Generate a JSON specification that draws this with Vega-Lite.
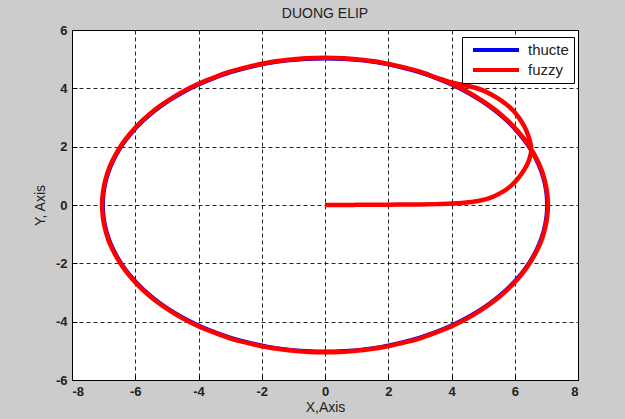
{
  "$schema": "https://vega.github.io/schema/vega-lite/v6.json",
  "width": 506,
  "height": 350,
  "autosize": {"type": "none"},
  "padding": {"left": 72, "top": 30, "right": 47, "bottom": 39},
  "background": "#cccccc",
  "title": {"text": "DUONG ELIP", "fontSize": 14, "font": "Liberation Sans", "fontWeight": "normal", "color": "#222222", "offset": 3, "anchor": "middle"},
  "config": {
    "view": {"stroke": "#000000", "strokeWidth": 1, "fill": "#ffffff"},
    "axis": {
      "domainColor": "#000000",
      "domainWidth": 1,
      "grid": true,
      "gridColor": "#000000",
      "gridDash": [4, 3],
      "gridOpacity": 0.85,
      "gridWidth": 1,
      "ticks": true,
      "tickSize": -5,
      "tickColor": "#000000",
      "labelFont": "Liberation Sans",
      "labelFontSize": 13,
      "labelFontWeight": "bold",
      "labelColor": "#222222",
      "labelPadding": 10,
      "labelExpr": "'' + datum.value",
      "titleFont": "Liberation Sans",
      "titleFontSize": 14,
      "titleFontWeight": "normal",
      "titleColor": "#222222"
    },
    "legend": {
      "orient": "none",
      "legendX": 390,
      "legendY": 7,
      "fillColor": "#ffffff",
      "strokeColor": "#000000",
      "padding": 5,
      "symbolType": "stroke",
      "symbolSize": 2116,
      "symbolStrokeWidth": 4,
      "symbolOffset": 4,
      "clipHeight": 16,
      "rowPadding": 4,
      "labelFont": "Liberation Sans",
      "labelFontSize": 15,
      "labelColor": "#222222",
      "labelOffset": 7,
      "title": null
    }
  },
  "datasets": {
    "thucte": [
      {"i":0,"x":7,"y":0},{"i":1,"x":6.973,"y":0.436},{"i":2,"x":6.894,"y":0.868},{"i":3,"x":6.762,"y":1.294},
      {"i":4,"x":6.578,"y":1.71},{"i":5,"x":6.344,"y":2.113},{"i":6,"x":6.062,"y":2.5},{"i":7,"x":5.734,"y":2.868},
      {"i":8,"x":5.362,"y":3.214},{"i":9,"x":4.95,"y":3.536},{"i":10,"x":4.5,"y":3.83},{"i":11,"x":4.015,"y":4.096},
      {"i":12,"x":3.5,"y":4.33},{"i":13,"x":2.958,"y":4.532},{"i":14,"x":2.394,"y":4.698},{"i":15,"x":1.812,"y":4.83},
      {"i":16,"x":1.216,"y":4.924},{"i":17,"x":0.61,"y":4.981},{"i":18,"x":0,"y":5},
      {"i":19,"x":-0.61,"y":4.981},{"i":20,"x":-1.216,"y":4.924},{"i":21,"x":-1.812,"y":4.83},{"i":22,"x":-2.394,"y":4.698},
      {"i":23,"x":-2.958,"y":4.532},{"i":24,"x":-3.5,"y":4.33},{"i":25,"x":-4.015,"y":4.096},{"i":26,"x":-4.5,"y":3.83},
      {"i":27,"x":-4.95,"y":3.536},{"i":28,"x":-5.362,"y":3.214},{"i":29,"x":-5.734,"y":2.868},{"i":30,"x":-6.062,"y":2.5},
      {"i":31,"x":-6.344,"y":2.113},{"i":32,"x":-6.578,"y":1.71},{"i":33,"x":-6.762,"y":1.294},{"i":34,"x":-6.894,"y":0.868},
      {"i":35,"x":-6.973,"y":0.436},{"i":36,"x":-7,"y":0},
      {"i":37,"x":-6.973,"y":-0.436},{"i":38,"x":-6.894,"y":-0.868},{"i":39,"x":-6.762,"y":-1.294},{"i":40,"x":-6.578,"y":-1.71},
      {"i":41,"x":-6.344,"y":-2.113},{"i":42,"x":-6.062,"y":-2.5},{"i":43,"x":-5.734,"y":-2.868},{"i":44,"x":-5.362,"y":-3.214},
      {"i":45,"x":-4.95,"y":-3.536},{"i":46,"x":-4.5,"y":-3.83},{"i":47,"x":-4.015,"y":-4.096},{"i":48,"x":-3.5,"y":-4.33},
      {"i":49,"x":-2.958,"y":-4.532},{"i":50,"x":-2.394,"y":-4.698},{"i":51,"x":-1.812,"y":-4.83},{"i":52,"x":-1.216,"y":-4.924},
      {"i":53,"x":-0.61,"y":-4.981},{"i":54,"x":0,"y":-5},
      {"i":55,"x":0.61,"y":-4.981},{"i":56,"x":1.216,"y":-4.924},{"i":57,"x":1.812,"y":-4.83},{"i":58,"x":2.394,"y":-4.698},
      {"i":59,"x":2.958,"y":-4.532},{"i":60,"x":3.5,"y":-4.33},{"i":61,"x":4.015,"y":-4.096},{"i":62,"x":4.5,"y":-3.83},
      {"i":63,"x":4.95,"y":-3.536},{"i":64,"x":5.362,"y":-3.214},{"i":65,"x":5.734,"y":-2.868},{"i":66,"x":6.062,"y":-2.5},
      {"i":67,"x":6.344,"y":-2.113},{"i":68,"x":6.578,"y":-1.71},{"i":69,"x":6.762,"y":-1.294},{"i":70,"x":6.894,"y":-0.868},
      {"i":71,"x":6.973,"y":-0.436},{"i":72,"x":7,"y":0}
    ],
    "fuzzy": [
      {"i":0,"x":0,"y":0},{"i":1,"x":0.5,"y":0},{"i":2,"x":1,"y":0.005},{"i":3,"x":1.5,"y":0.008},
      {"i":4,"x":2,"y":0.01},{"i":5,"x":2.5,"y":0.015},{"i":6,"x":3,"y":0.02},{"i":7,"x":3.5,"y":0.03},
      {"i":8,"x":4,"y":0.05},{"i":9,"x":4.4,"y":0.08},{"i":10,"x":4.8,"y":0.13},{"i":11,"x":5.1,"y":0.2},
      {"i":12,"x":5.35,"y":0.3},{"i":13,"x":5.6,"y":0.44},{"i":14,"x":5.85,"y":0.63},{"i":15,"x":6.05,"y":0.84},
      {"i":16,"x":6.22,"y":1.08},{"i":17,"x":6.36,"y":1.32},{"i":18,"x":6.46,"y":1.57},{"i":19,"x":6.52,"y":1.85},
      {"i":20,"x":6.5,"y":2.1},{"i":21,"x":6.42,"y":2.4},{"i":22,"x":6.3,"y":2.7},{"i":23,"x":6.14,"y":2.98},
      {"i":24,"x":5.95,"y":3.24},{"i":25,"x":5.7,"y":3.48},{"i":26,"x":5.43,"y":3.68},{"i":27,"x":5.1,"y":3.88},
      {"i":28,"x":4.75,"y":4.02},{"i":29,"x":4.37,"y":4.12},{"i":30,"x":4.0,"y":4.2},{"i":31,"x":3.75,"y":4.29},
      {"i":32,"x":3.52,"y":4.37},{"i":33,"x":2.98,"y":4.58},{"i":34,"x":2.41,"y":4.74},{"i":35,"x":1.82,"y":4.88},
      {"i":36,"x":1.22,"y":4.97},{"i":37,"x":0.61,"y":5.03},{"i":38,"x":0,"y":5.05},
      {"i":39,"x":-0.61,"y":5.03},{"i":40,"x":-1.22,"y":4.97},{"i":41,"x":-1.82,"y":4.88},{"i":42,"x":-2.41,"y":4.74},
      {"i":43,"x":-2.98,"y":4.58},{"i":44,"x":-3.52,"y":4.37},{"i":45,"x":-4.04,"y":4.14},{"i":46,"x":-4.53,"y":3.87},
      {"i":47,"x":-4.98,"y":3.57},{"i":48,"x":-5.4,"y":3.25},{"i":49,"x":-5.77,"y":2.9},{"i":50,"x":-6.1,"y":2.53},
      {"i":51,"x":-6.39,"y":2.13},{"i":52,"x":-6.62,"y":1.73},{"i":53,"x":-6.81,"y":1.31},{"i":54,"x":-6.94,"y":0.88},
      {"i":55,"x":-7.02,"y":0.44},{"i":56,"x":-7.05,"y":0},
      {"i":57,"x":-7.02,"y":-0.44},{"i":58,"x":-6.94,"y":-0.88},{"i":59,"x":-6.81,"y":-1.31},{"i":60,"x":-6.62,"y":-1.73},
      {"i":61,"x":-6.39,"y":-2.13},{"i":62,"x":-6.1,"y":-2.53},{"i":63,"x":-5.77,"y":-2.9},{"i":64,"x":-5.4,"y":-3.25},
      {"i":65,"x":-4.98,"y":-3.57},{"i":66,"x":-4.53,"y":-3.87},{"i":67,"x":-4.04,"y":-4.14},{"i":68,"x":-3.52,"y":-4.37},
      {"i":69,"x":-2.98,"y":-4.58},{"i":70,"x":-2.41,"y":-4.74},{"i":71,"x":-1.82,"y":-4.88},{"i":72,"x":-1.22,"y":-4.97},
      {"i":73,"x":-0.61,"y":-5.03},{"i":74,"x":0,"y":-5.05},
      {"i":75,"x":0.61,"y":-5.03},{"i":76,"x":1.22,"y":-4.97},{"i":77,"x":1.82,"y":-4.88},{"i":78,"x":2.41,"y":-4.74},
      {"i":79,"x":2.98,"y":-4.58},{"i":80,"x":3.52,"y":-4.37},{"i":81,"x":4.04,"y":-4.14},{"i":82,"x":4.53,"y":-3.87},
      {"i":83,"x":4.98,"y":-3.57},{"i":84,"x":5.4,"y":-3.25},{"i":85,"x":5.77,"y":-2.9},{"i":86,"x":6.1,"y":-2.53},
      {"i":87,"x":6.39,"y":-2.13},{"i":88,"x":6.62,"y":-1.73},{"i":89,"x":6.81,"y":-1.31},{"i":90,"x":6.94,"y":-0.88},
      {"i":91,"x":7.02,"y":-0.44},{"i":92,"x":7.05,"y":0},
      {"i":93,"x":7.02,"y":0.44},{"i":94,"x":6.94,"y":0.88},{"i":95,"x":6.81,"y":1.31},{"i":96,"x":6.62,"y":1.73},
      {"i":97,"x":6.39,"y":2.13},{"i":98,"x":6.1,"y":2.53},{"i":99,"x":5.77,"y":2.9},{"i":100,"x":5.4,"y":3.25},
      {"i":101,"x":4.98,"y":3.57},{"i":102,"x":4.53,"y":3.87},{"i":103,"x":4.04,"y":4.14},{"i":104,"x":3.52,"y":4.37}
    ]
  },
  "layer": [
    {
      "data": {"name": "thucte"},
      "mark": {"type": "line", "strokeWidth": 2.5, "interpolate": "catmull-rom"},
      "encoding": {
        "x": {"field": "x", "type": "quantitative", "scale": {"domain": [-8, 8], "nice": false, "zero": false},
              "axis": {"values": [-8, -6, -4, -2, 0, 2, 4, 6, 8], "title": "X,Axis", "titlePadding": 2}},
        "y": {"field": "y", "type": "quantitative", "scale": {"domain": [-6, 6], "nice": false, "zero": false},
              "axis": {"values": [-6, -4, -2, 0, 2, 4, 6], "title": "Y, Axis", "titlePadding": 8}},
        "order": {"field": "i", "type": "quantitative"},
        "color": {"datum": "thucte", "type": "nominal", "scale": {"domain": ["thucte", "fuzzy"], "range": ["#0000ff", "#ff0000"]}, "legend": {"symbolStrokeWidth": 4}}
      }
    },
    {
      "data": {"name": "fuzzy"},
      "mark": {"type": "line", "strokeWidth": 4.5, "interpolate": "catmull-rom"},
      "encoding": {
        "x": {"field": "x", "type": "quantitative"},
        "y": {"field": "y", "type": "quantitative"},
        "order": {"field": "i", "type": "quantitative"},
        "color": {"datum": "fuzzy", "type": "nominal"}
      }
    }
  ]
}
